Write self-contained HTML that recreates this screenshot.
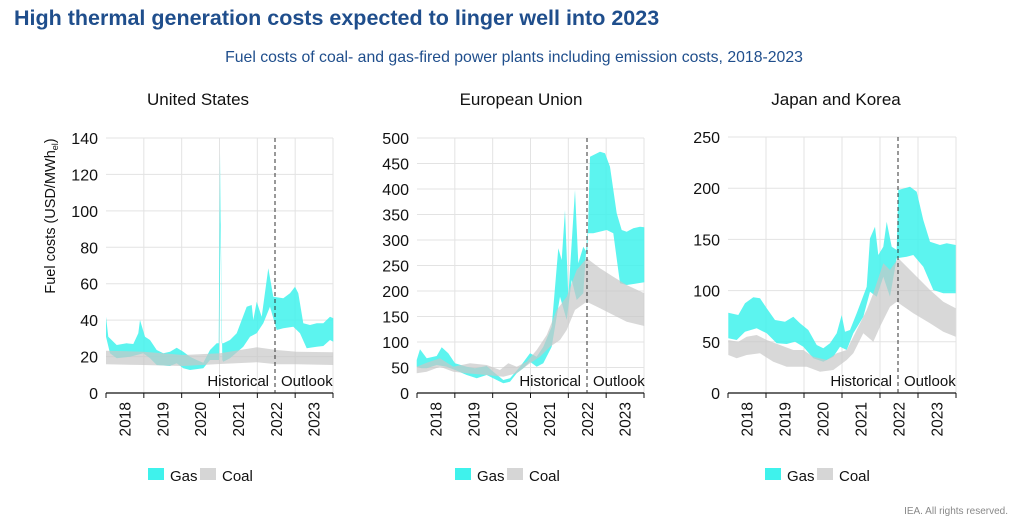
<!DOCTYPE html>
<html><head><meta charset="utf-8"><style>
body{margin:0;background:#fff;width:1024px;height:525px;overflow:hidden;font-family:"Liberation Sans",Arial,sans-serif}
</style></head><body>
<svg id="s" width="1024" height="525" xmlns="http://www.w3.org/2000/svg" font-family="Liberation Sans, Arial, sans-serif">
<text x="14" y="25" font-size="21.5" font-weight="bold" fill="#1f4e8c">High thermal generation costs expected to linger well into 2023</text>
<text x="514" y="62" font-size="15.8" fill="#1f4e8c" text-anchor="middle">Fuel costs of coal- and gas-fired power plants including emission costs, 2018-2023</text>
<text x="198" y="105" font-size="17" text-anchor="middle" fill="#111">United States</text>
<text x="521" y="105" font-size="17" text-anchor="middle" fill="#111">European Union</text>
<text x="836" y="105" font-size="17" text-anchor="middle" fill="#111">Japan and Korea</text>
<text transform="translate(55,216) rotate(-90)" font-size="14.5" text-anchor="middle" fill="#111">Fuel costs (USD/MWh<tspan font-size="9" dy="3">el</tspan><tspan dy="-3">)</tspan></text>
<text x="1008" y="514" font-size="10" text-anchor="end" fill="#888">IEA. All rights reserved.</text>
<g id="g"></g>
</svg>
<script>
var NS="http://www.w3.org/2000/svg",g=document.getElementById('g');
function el(t,a,txt){var e=document.createElementNS(NS,t);for(var k in a)e.setAttribute(k,a[k]);if(txt)e.textContent=txt;g.appendChild(e);return e;}
function band(ox,oy,up,lo,fill,op){var pts=[];up.forEach(function(p){pts.push((ox+p[0]/3).toFixed(1)+','+(oy+p[1]/3).toFixed(1));});
lo.slice().reverse().forEach(function(p){pts.push((ox+p[0]/3).toFixed(1)+','+(oy+p[1]/3).toFixed(1));});
el('polygon',{points:pts.join(' '),fill:fill,'fill-opacity':op});}
function panel(o){var L=o.L,R=o.R,T=o.T,B=393;var w=(R-L)/6;
for(var i=0;i<o.ticks.length;i++){var y=B-(B-T)*i/(o.ticks.length-1);
if(i>0)el('line',{x1:L,x2:R,y1:y,y2:y,stroke:'#e3e3e3','stroke-width':1});
el('text',{x:L-8,y:y+6,'font-size':16,'text-anchor':'end',fill:'#111'},o.ticks[i]);}
for(var j=1;j<=6;j++){var x=L+w*j;el('line',{x1:x,x2:x,y1:T,y2:B,stroke:'#e3e3e3'});}
band(o.ox,120,o.gu,o.gl,'#3ff2ec',0.85);
band(o.ox,120,o.cu,o.cl,'#c8c8c8',0.7);
el('line',{x1:L,x2:R,y1:B,y2:B,stroke:'#111','stroke-width':1.2});
for(var j=0;j<=6;j++){var x=L+w*j;el('line',{x1:x,x2:x,y1:B,y2:B+5,stroke:'#111'});}
var yrs=['2018','2019','2020','2021','2022','2023'];
for(var j=0;j<6;j++){var x=L+w*(j+0.5)+5.5;el('text',{transform:'translate('+x+',402) rotate(-90)','font-size':15.5,'text-anchor':'end',fill:'#111'},yrs[j]);}
el('line',{x1:o.D,x2:o.D,y1:T,y2:B,stroke:'#333','stroke-dasharray':'4,3'});
el('text',{x:o.D-6,y:386,'font-size':15,'text-anchor':'end',fill:'#111'},'Historical');
el('text',{x:o.D+6,y:386,'font-size':15,fill:'#111'},'Outlook');
var lx=o.lx;el('rect',{x:lx,y:468,width:16,height:12,fill:'#3ff2ec'});
el('text',{x:lx+22,y:481,'font-size':15,fill:'#111'},'Gas');
el('rect',{x:lx+52,y:468,width:16,height:12,fill:'#d6d6d6'});
el('text',{x:lx+74,y:481,'font-size':15,fill:'#111'},'Coal');}
panel({ox:30,L:106,R:333,T:138,D:275,lx:148,ticks:['0','20','40','60','80','100','120','140'],
gu:[[228,590],[235,650],[260,675],[290,670],[310,672],[325,640],[330,600],[345,650],[360,660],[380,690],[400,700],[420,695],[440,683],[460,695],[480,710],[500,720],[520,728],[540,690],[560,670],[566,670],[570,100],[575,670],[580,670],[600,660],[620,640],[650,560],[665,555],[670,600],[680,545],[695,590],[715,445],[730,530],[760,535],[780,520],[795,500],[805,520],[820,610],[840,615],[860,610],[880,610],[900,590],[910,595]],
gl:[[228,650],[240,700],[260,715],[300,710],[320,705],[340,700],[360,715],[380,735],[420,738],[440,730],[460,745],[480,750],[520,745],[540,720],[560,720],[567,720],[572,300],[577,720],[580,725],[600,715],[640,680],[660,650],[680,640],[700,610],[720,560],[740,630],[760,625],[790,620],[810,640],[830,685],[860,680],[880,678],[900,660],[910,665]],
cu:[[228,692],[340,695],[460,705],[570,700],[630,690],[680,682],[740,690],[800,695],[910,697]],
cl:[[228,733],[340,735],[460,738],[570,732],[680,727],[740,733],[800,733],[910,735]]});
panel({ox:360,L:417,R:644,T:138,D:587,lx:455,ticks:['0','50','100','150','200','250','300','350','400','450','500'],
gu:[[170,720],[180,688],[200,715],[230,708],[245,682],[265,700],[285,730],[320,740],[345,745],[380,738],[400,755],[430,780],[450,775],[480,740],[510,700],[530,710],[550,680],[575,620],[595,385],[605,420],[615,270],[625,530],[645,210],[655,430],[670,380],[682,400],[690,110],[720,95],[735,100],[750,140],[770,280],[785,330],[800,335],[820,325],[840,320],[853,322]],
gl:[[170,740],[185,745],[200,745],[230,735],[260,740],[285,750],[320,765],[350,775],[380,765],[410,780],[430,790],[450,785],[470,760],[490,745],[510,725],[530,740],[550,730],[575,680],[600,530],[620,600],[635,480],[650,540],[670,520],[682,340],[700,340],[740,330],[760,340],[780,490],[800,495],[853,487]],
cu:[[170,740],[200,728],[240,715],[280,740],[330,730],[380,735],[420,750],[445,730],[470,740],[500,725],[530,690],[560,645],[590,570],[620,530],[650,450],[680,415],[720,445],[760,470],[800,495],[853,520]],
cl:[[170,760],[200,755],[240,740],[280,755],[320,760],[380,765],[430,770],[470,760],[510,730],[540,710],[570,680],[600,660],[620,630],[645,570],[680,545],[720,565],[760,585],[800,605],[853,618]]});
panel({ox:680,L:728,R:956,T:137,D:898,lx:765,ticks:['0','50','100','150','200','250'],
gu:[[145,578],[175,585],[195,550],[220,532],[240,535],[260,565],[285,600],[315,605],[340,590],[360,610],[385,630],[410,675],[430,685],[450,670],[470,640],[485,585],[495,635],[510,630],[530,580],[560,500],[570,355],[585,320],[595,405],[610,380],[620,305],[635,380],[650,390],[655,210],[690,200],[710,215],[730,300],[750,365],[780,375],[800,370],[827,375]],
gl:[[145,655],[170,660],[195,635],[230,625],[260,640],[290,670],[320,672],[345,665],[370,680],[400,715],[430,725],[460,710],[480,680],[500,690],[520,640],[550,590],[570,515],[590,530],[610,470],[630,530],[650,415],[680,410],[700,405],[730,440],[760,510],[790,520],[827,520]],
cu:[[145,660],[175,665],[200,650],[230,645],[260,660],[300,675],[340,690],[370,690],[400,710],[440,720],[470,700],[500,690],[530,630],[560,570],[580,520],[610,430],[630,450],[655,415],[700,460],[750,510],[790,545],[827,565]],
cl:[[145,705],[170,715],[200,705],[240,700],[280,725],[320,740],[380,740],[420,755],[460,750],[500,720],[520,700],[550,640],[580,665],[600,620],[630,560],[650,545],[700,580],[750,610],[790,635],[827,650]]});
</script>
</body></html>
